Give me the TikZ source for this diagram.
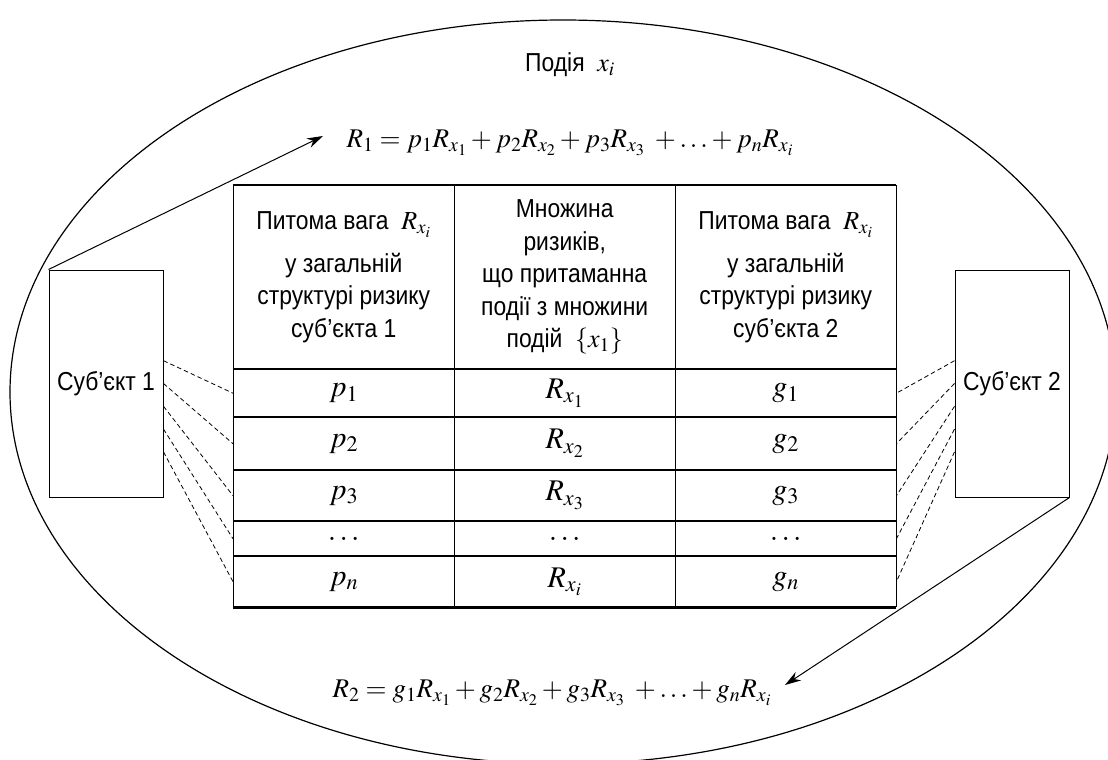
\documentclass[tikz,border=0pt]{standalone}
\usepackage{mathptmx}
\usepackage[no-math]{fontspec}
\setmainfont{Liberation Sans}[FakeStretch=0.88]
\usetikzlibrary{arrows.meta,calc}

\begin{document}
\begin{tikzpicture}[
    x=1pt, y=-1pt,
      subject/.style={draw, line width=1pt, rectangle, minimum width=114pt, minimum height=227pt, inner sep=0pt, font=\fontsize{26}{30}\selectfont},
      head/.style={inner sep=0pt, minimum width=221pt, minimum height=184pt, anchor=north west, align=center, font=\fontsize{26}{32.5}\selectfont},
      cell/.style={inner sep=0pt, minimum width=221pt, anchor=north west, font=\fontsize{30}{32}\selectfont},
      formula/.style={inner sep=0pt, font=\fontsize{27}{30}\selectfont},
      hline/.style={line width=2.2pt},
      vline/.style={line width=1pt},
      tie/.style={dash pattern=on 4.5pt off 3pt, line width=0.8pt},
      link/.style={-{Stealth[length=16pt, width=10pt]}, line width=1pt},
      oval/.style={line width=1.2pt}
  ]
      \useasboundingbox (0,0) rectangle (1108,760);
      \clip (0,0) rectangle (1108,760);

      % Event ellipse
      \draw[oval] (563,392) ellipse [x radius=553, y radius=372];
      \node (event) at (570,65) {\fontsize{26}{30}\selectfont Подія \ $x_i$};

      % Subjects
      \node[subject] (s1) at (106,383.5) {Суб’єкт 1};
      \node[subject] (s2) at (1012,383.5) {Суб’єкт 2};

      % Formulas
      \node[formula] (f1) at (570,143) {$R_1 = p_1R_{x_1} + p_2R_{x_2} + p_3R_{x_3}\;+\ldots+p_nR_{x_i}$};
      \node[formula] (f2) at (552,693) {$R_2 = g_1R_{x_1} + g_2R_{x_2} + g_3R_{x_3}\;+\ldots+g_nR_{x_i}$};
      \coordinate (t1) at (323,136);
      \coordinate (t2) at (785,685);

      % Table header
      \node[head] (h1) at (233,185) {Питома вага \ $R_{x_i}$\\[10pt] у загальній\\ структурі ризику\\ суб’єкта 1};
      \node[head] (h2) at (454,185) {Множина\\ ризиків,\\ що притаманна\\ події з множини\\ подій \ $\left\{x_1\right\}$};
      \node[head] (h3) at (675,185) {Питома вага \ $R_{x_i}$\\[10pt] у загальній\\ структурі ризику\\ суб’єкта 2};

      % Table rows
      \foreach \k/\top/\h/\pv/\rv/\gv in {1/369/48/{$p_1$}/{$R_{x_1}$}/{$g_1$},
          2/417/53/{$p_2$}/{$R_{x_2}$}/{$g_2$},
          3/470/51/{$p_3$}/{$R_{x_3}$}/{$g_3$},
          d/521/35/{$\ldots$}/{$\ldots$}/{$\ldots$},
          n/556/51/{$p_n$}/{$R_{x_i}$}/{$g_n$}}{
        \node[cell, minimum height=\h] (p\k) at (233,\top) {\pv};
        \node[cell, minimum height=\h] (r\k) at (454,\top) {\rv};
        \node[cell, minimum height=\h] (g\k) at (675,\top) {\gv};
      }

      % Grid
      \draw[hline] (h1.north west) -- (h3.north east);
      \foreach \k in {1,2,3,d,n}
        \draw[hline] (p\k.north west) -- (g\k.north east);
      \draw[hline] (pn.south west) -- (gn.south east);
      \draw[vline] (h1.north west) -- (pn.south west);
      \draw[vline] (h2.north west) -- (rn.south west);
      \draw[vline] (h3.north west) -- (gn.south west);
      \draw[vline] (h3.north east) -- (gn.south east);

      % Dashed ties
      \foreach \k [count=\i from 0] in {1,2,3,d,n}{
        \draw[tie] ($(s1.north east)!{0.4+0.1*\i}!(s1.south east)$) -- (p\k.west);
        \draw[tie] ($(s2.north west)!{0.4+0.1*\i}!(s2.south west)$) -- (g\k.east);
      }

      % Arrows
      \draw[link] (s1.north west) -- (t1);
      \draw[link] (s2.south east) -- (t2);
  \end{tikzpicture}
\end{document}
